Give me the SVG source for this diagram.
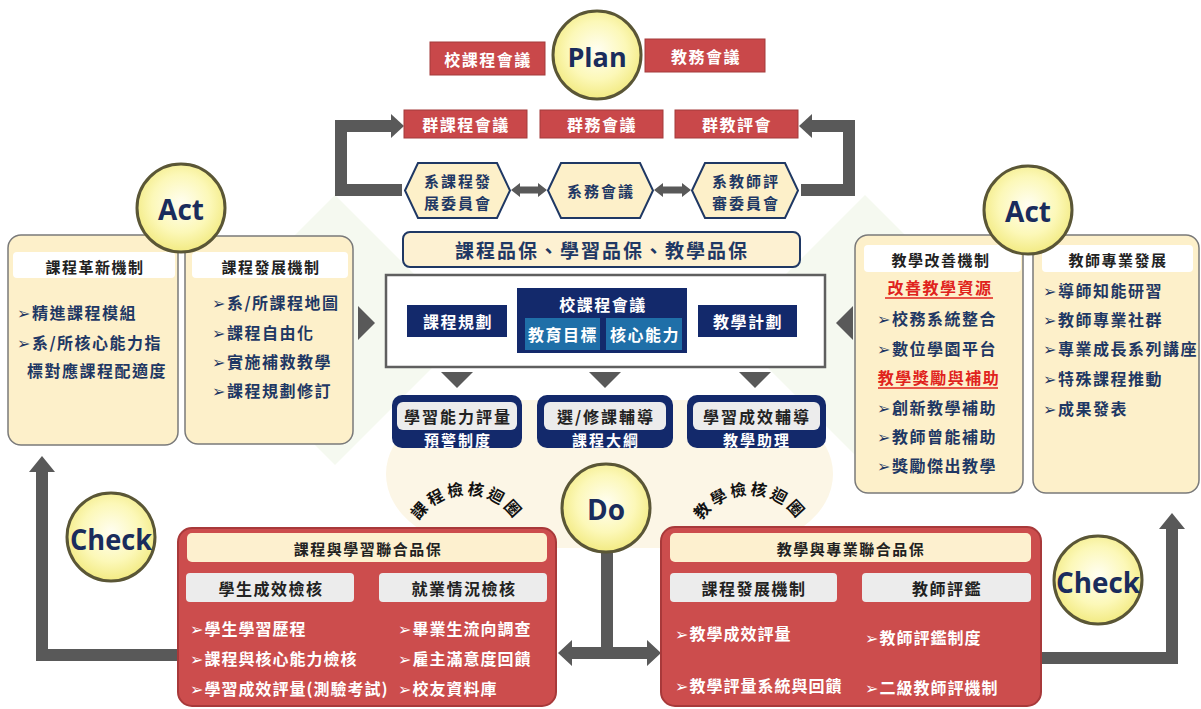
<svg xmlns="http://www.w3.org/2000/svg" width="1201" height="709" viewBox="0 0 1201 709">
<defs>
<radialGradient id="yel" cx="50%" cy="45%" r="55%">
<stop offset="0" stop-color="#fffef2"/>
<stop offset="0.6" stop-color="#fcf8b8"/>
<stop offset="1" stop-color="#f2ea82"/>
</radialGradient>
<style>
.t{font-family:"Noto Sans CJK TC","Noto Sans CJK SC","DejaVu Sans",sans-serif;font-weight:700;dominant-baseline:central}
.c{text-anchor:middle}
.w{fill:#ffffff}
.k{fill:#222222}
.n{fill:#1f3864}
.r{fill:#e0231d}
.f16{font-size:16px;letter-spacing:1.5px}
.f15{font-size:15px;letter-spacing:1.5px}
.h15{font-size:15px;letter-spacing:2px}
.f17{font-size:16px;letter-spacing:2px}
.red{fill:#c9484a;stroke:#a33b3b;stroke-width:1}
.hex{fill:#fdf0c9;stroke:#1f3864;stroke-width:2}
.navy{fill:#13296b}
.lb{fill:#1f6fa8}
.beige{fill:#fdf0ca;stroke:#7a7a7a;stroke-width:1.5}
.hd{fill:#ffffff}
.gry{fill:#ececec}
.rbox{fill:#cc4d4d;stroke:#a8393a;stroke-width:2}
.ttl{fill:#fdf0cf}
.circ{fill:url(#yel);stroke:#5a5636;stroke-width:3}
.pd{font-family:"Open Sans","Liberation Sans",sans-serif;font-weight:700;fill:#1a2c5c;text-anchor:middle;dominant-baseline:central}
.bar{fill:none;stroke:#595959;stroke-width:12;stroke-linejoin:miter}
.ah{fill:#595959}
.arc{font-family:"Noto Sans CJK TC","DejaVu Sans",sans-serif;font-weight:700;font-size:16px;letter-spacing:3px;fill:#111111}
.ul{stroke:#e0231d;stroke-width:1.5}
.it{font-size:16px;letter-spacing:1px}
</style>
<path id="arcL" d="M 409 553 A 58 58 0 0 1 525 553"/>
<path id="arcR" d="M 692 553 A 58 58 0 0 1 808 553"/>
</defs>
<rect width="1201" height="709" fill="#ffffff"/>
<g id="background">
<polygon points="335,195 470,330 335,465 200,330" fill="#f5f9f0"/>
<polygon points="865,195 1000,330 865,465 730,330" fill="#f5f9f0"/>
<rect x="386" y="400" width="447" height="148" rx="100" ry="75" fill="#fcf6e6"/>
</g>
<g id="connectors">
<path class="bar" d="M 402 190 H 341 V 126 H 392"/>
<polygon class="ah" points="391,114 404,126 391,138"/>
<path class="bar" d="M 801 190 H 849 V 126 H 811"/>
<polygon class="ah" points="812,114 799,126 812,138"/>
<polygon class="ah" points="511,190 520,183 520,186.5 538,186.5 538,183 547,190 538,197 538,193.5 520,193.5 520,197"/>
<polygon class="ah" points="654,190 663,183 663,186.5 682,186.5 682,183 691,190 682,197 682,193.5 663,193.5 663,197"/>
<polygon class="ah" points="358,306 375,323 358,340"/>
<polygon class="ah" points="853,306 836,323 853,340"/>
<polygon class="ah" points="441,372 473,372 457,388"/>
<polygon class="ah" points="589,372 621,372 605,388"/>
<polygon class="ah" points="739,372 771,372 755,388"/>
<rect class="ah" x="601" y="550" width="12" height="103"/>
<polygon class="ah" points="558,653 572,640 572,647 647,647 647,640 661,653 647,666 647,659 572,659 572,666"/>
<path class="bar" d="M 178 655 H 42 V 470"/>
<polygon class="ah" points="29,472 42,456 55,472"/>
<path class="bar" d="M 1041 658 H 1172 V 527"/>
<polygon class="ah" points="1159,529 1172,513 1185,529"/>
</g>
<g id="plan-red">
<g id="n-school-course"><rect class="red" x="430" y="42" width="115" height="33"/><text class="t c w f16" x="488" y="58.5">校課程會議</text></g>
<g id="n-academic"><rect class="red" x="645" y="39" width="120" height="33"/><text class="t c w f16" x="706" y="55.5">教務會議</text></g>
<g id="n-group-course"><rect class="red" x="404" y="110" width="123" height="28"/><text class="t c w f16" x="466" y="124">群課程會議</text></g>
<g id="n-group-affairs"><rect class="red" x="540" y="110" width="123" height="28"/><text class="t c w f16" x="602" y="124">群務會議</text></g>
<g id="n-group-eval"><rect class="red" x="675" y="110" width="123" height="28"/><text class="t c w f16" x="737" y="124">群教評會</text></g>
</g>
<g id="hexagons">
<g id="n-dept-course"><polygon class="hex" points="405,190.5 418,163 497,163 510,190.5 497,218 418,218"/><text class="t c n h15" x="458" y="180">系課程發</text><text class="t c n h15" x="458" y="202">展委員會</text></g>
<g id="n-dept-affairs"><polygon class="hex" points="548,190.5 561,163 640,163 653,190.5 640,218 561,218"/><text class="t c n h15" x="601" y="190">系務會議</text></g>
<g id="n-dept-eval"><polygon class="hex" points="692,190.5 705,163 785,163 798,190.5 785,218 705,218"/><text class="t c n h15" x="746" y="180">系教師評</text><text class="t c n h15" x="746" y="202">審委員會</text></g>
</g>
<g id="n-quality"><rect x="403" y="232" width="397" height="35" rx="7" fill="#fdf1d2" stroke="#1f3864" stroke-width="2"/><text class="t c n" x="602" y="249.5" style="font-size:19px;letter-spacing:2px">課程品保、學習品保、教學品保</text></g>
<g id="n-center">
<rect x="386" y="275" width="439" height="92" fill="#ffffff" stroke="#5f5f5f" stroke-width="2.5"/>
<rect class="navy" x="407" y="305" width="100" height="32"/><text class="t c w f16" x="458" y="321">課程規劃</text>
<rect class="navy" x="517" y="288" width="170" height="65"/><text class="t c w f16" x="603" y="304">校課程會議</text>
<rect class="lb" x="525" y="318" width="75" height="32"/><text class="t c w f16" x="563" y="334">教育目標</text>
<rect class="lb" x="606" y="318" width="76" height="32"/><text class="t c w f16" x="645" y="334">核心能力</text>
<rect class="navy" x="698" y="305" width="99" height="32"/><text class="t c w f16" x="748" y="321">教學計劃</text>
</g>
<g id="n-do-a"><rect class="navy" x="392" y="395" width="130" height="53" rx="10"/><rect class="gry" x="397" y="402" width="120" height="28" rx="6"/><text class="t c k f17" x="458" y="415.5">學習能力評量</text><text class="t c w h15" x="458" y="439">預警制度</text></g>
<g id="n-do-b"><rect class="navy" x="537" y="395" width="136" height="53" rx="10"/><rect class="gry" x="544" y="402" width="122" height="28" rx="6"/><text class="t c k f17" x="606" y="415.5">選/修課輔導</text><text class="t c w h15" x="606" y="439">課程大綱</text></g>
<g id="n-do-c"><rect class="navy" x="687" y="395" width="139" height="53" rx="10"/><rect class="gry" x="693" y="402" width="127" height="28" rx="6"/><text class="t c k f17" x="757" y="415.5">學習成效輔導</text><text class="t c w h15" x="757" y="439">教學助理</text></g>
<g id="n-act-left-1"><rect class="beige" x="8" y="235" width="170" height="210" rx="13"/><rect class="hd" x="13" y="252" width="162" height="26" rx="4"/><text class="t c k f15" x="95" y="266">課程革新機制</text>
<text class="t n f16" x="17" y="312">➢精進課程模組</text><text class="t n f16" x="17" y="342">➢系/所核心能力指</text><text class="t n f16" x="27" y="370">標對應課程配適度</text></g>
<g id="n-act-left-2"><rect class="beige" x="185" y="236" width="168" height="208" rx="13"/><rect class="hd" x="192" y="252" width="156" height="26" rx="4"/><text class="t c k f15" x="271" y="266">課程發展機制</text>
<text class="t n f16" x="212" y="302">➢系/所課程地圖</text><text class="t n f16" x="212" y="332">➢課程自由化</text><text class="t n f16" x="212" y="361">➢實施補救教學</text><text class="t n f16" x="212" y="390">➢課程規劃修訂</text></g>
<g id="n-act-right-1"><rect class="beige" x="855" y="235" width="168" height="258" rx="13"/><rect class="hd" x="864" y="245" width="157" height="27" rx="4"/><text class="t c k f15" x="941" y="259">教學改善機制</text>
<text class="t c r f16" x="940" y="287">改善教學資源</text><line class="ul" x1="885" y1="298" x2="993" y2="298"/>
<text class="t n f16" x="877" y="318">➢校務系統整合</text><text class="t n f16" x="877" y="348">➢數位學園平台</text>
<text class="t c r f16" x="939" y="377">教學獎勵與補助</text><line class="ul" x1="878" y1="388" x2="998" y2="388"/>
<text class="t n f16" x="877" y="407">➢創新教學補助</text><text class="t n f16" x="877" y="436">➢教師曾能補助</text><text class="t n f16" x="877" y="465">➢獎勵傑出教學</text></g>
<g id="n-act-right-2"><rect class="beige" x="1033" y="235" width="166" height="258" rx="13"/><rect class="hd" x="1042" y="245" width="151" height="27" rx="4"/><text class="t c k f15" x="1118" y="259">教師專業發展</text>
<text class="t n f16" x="1043" y="290">➢導師知能研習</text><text class="t n f16" x="1043" y="319">➢教師專業社群</text><text class="t n f16" x="1043" y="348">➢專業成長系列講座</text><text class="t n f16" x="1043" y="378">➢特殊課程推動</text><text class="t n f16" x="1043" y="408">➢成果發表</text></g>
<g id="n-check-left"><rect class="rbox" x="178" y="528" width="378" height="178" rx="14"/><rect class="ttl" x="187" y="533" width="360" height="29" rx="5"/><text class="t c k f15" x="368" y="548">課程與學習聯合品保</text>
<rect class="gry" x="186" y="573" width="168" height="29" rx="4"/><text class="t c k f16" x="271" y="588">學生成效檢核</text>
<rect class="gry" x="379" y="573" width="168" height="29" rx="4"/><text class="t c k f16" x="464" y="588">就業情況檢核</text>
<text class="t w it" x="190" y="628">➢學生學習歷程</text><text class="t w it" x="190" y="658">➢課程與核心能力檢核</text><text class="t w it" x="190" y="688">➢學習成效評量(測驗考試)</text>
<text class="t w it" x="398" y="628">➢畢業生流向調查</text><text class="t w it" x="398" y="658">➢雇主滿意度回饋</text><text class="t w it" x="398" y="688">➢校友資料庫</text></g>
<g id="n-check-right"><rect class="rbox" x="661" y="527" width="380" height="179" rx="14"/><rect class="ttl" x="670" y="533" width="361" height="29" rx="5"/><text class="t c k f15" x="851" y="548">教學與專業聯合品保</text>
<rect class="gry" x="670" y="573" width="167" height="29" rx="4"/><text class="t c k f16" x="754" y="588">課程發展機制</text>
<rect class="gry" x="862" y="573" width="169" height="29" rx="4"/><text class="t c k f16" x="947" y="588">教師評鑑</text>
<text class="t w it" x="675" y="633">➢教學成效評量</text><text class="t w it" x="675" y="685">➢教學評量系統與回饋</text>
<text class="t w it" x="865" y="637">➢教師評鑑制度</text><text class="t w it" x="865" y="687">➢二級教師評機制</text></g>
<g id="loop-labels">
<text class="arc"><textPath href="#arcL" startOffset="50%" text-anchor="middle">課程檢核迴圈</textPath></text>
<text class="arc"><textPath href="#arcR" startOffset="50%" text-anchor="middle">教學檢核迴圈</textPath></text>
</g>
<g id="n-plan"><circle class="circ" cx="597" cy="55" r="44"/><text class="pd" x="597" y="56" style="font-size:27px">Plan</text></g>
<g id="n-act-left"><circle class="circ" cx="181" cy="208" r="44"/><text class="pd" x="181" y="209" style="font-size:28px">Act</text></g>
<g id="n-act-right"><circle class="circ" cx="1028" cy="210" r="44"/><text class="pd" x="1028" y="211" style="font-size:28px">Act</text></g>
<g id="n-do"><circle class="circ" cx="606" cy="508" r="44"/><text class="pd" x="606" y="509" style="font-size:28px">Do</text></g>
<g id="n-check-l"><circle class="circ" cx="111" cy="537" r="44"/><text class="pd" x="111" y="538" style="font-size:29px" textLength="82" lengthAdjust="spacingAndGlyphs">Check</text></g>
<g id="n-check-r"><circle class="circ" cx="1098" cy="580" r="44"/><text class="pd" x="1098" y="581" style="font-size:29px" textLength="84" lengthAdjust="spacingAndGlyphs">Check</text></g>
</svg>
